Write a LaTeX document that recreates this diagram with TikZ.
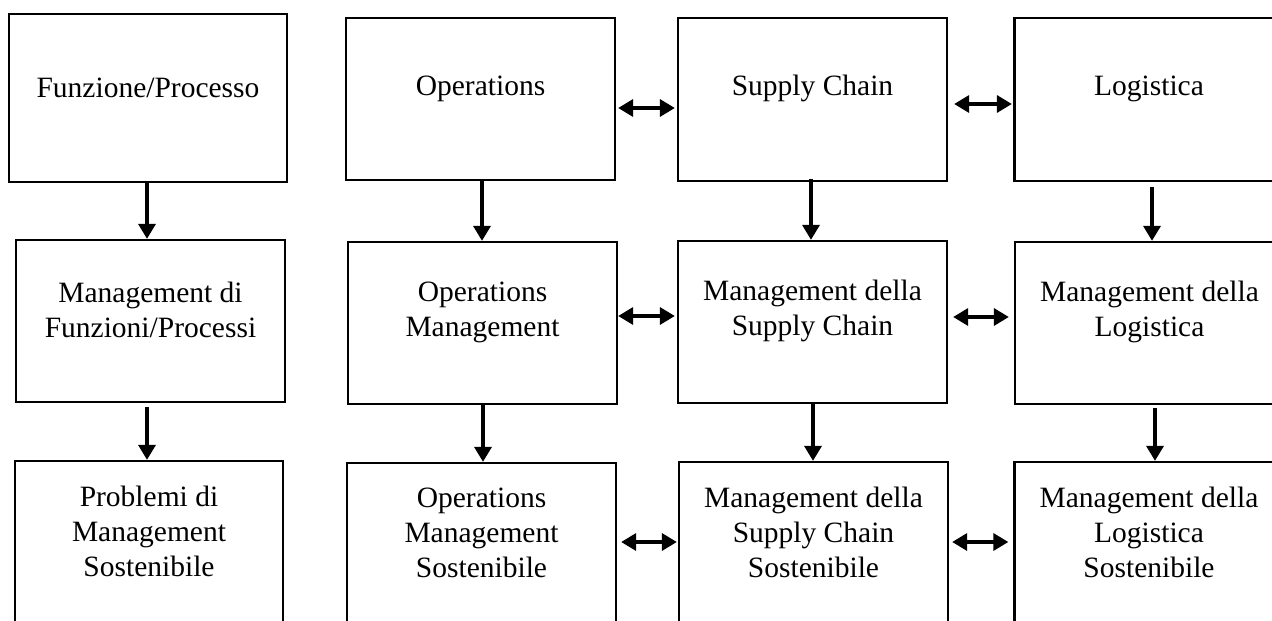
\documentclass[tikz,border=0pt]{standalone}
\usepackage{fontspec}
\setmainfont{Liberation Serif}
\usetikzlibrary{arrows.meta}

\begin{document}
\begin{tikzpicture}[x=1pt,y=-1pt,
  box/.style={draw=black, line width=2.3pt, rectangle, inner sep=0pt,
              minimum width=269pt, minimum height=162pt},
  txt/.style={align=center, inner sep=0pt, text=black,
              font=\fontsize{29.5}{35}\selectfont},
  arr/.style={line width=3.4pt, -{Triangle[length=15pt,width=17pt]}},
  darr/.style={line width=3.4pt,
               {Triangle[length=15pt,width=17pt]}-{Triangle[length=15pt,width=17pt]}}]

\useasboundingbox (0,0) rectangle (1272,621);
\clip (0,0) rectangle (1272,621);
\fill[white] (0,0) rectangle (1272,621);

% ---- first row: function / process
\node[box, minimum width=278pt, minimum height=168pt] (f1) at (148,98) {};
\node[box] (o1) at (480.5,99) {};
\node[box, minimum height=163pt] (s1) at (812.5,99.5) {};
\node[box, minimum height=163pt] (l1) at (1149,99.5) {};

% ---- second row: management
\node[box] (f2) at (150.5,321) {};
\node[box] (o2) at (482.5,323) {};
\node[box] (s2) at (812.5,322) {};
\node[box] (l2) at (1149.5,323) {};

% ---- third row: sustainable management
\node[box, minimum width=268pt] (f3) at (149,542) {};
\node[box] (o3) at (481.5,544) {};
\node[box] (s3) at (813.5,543) {};
\node[box] (l3) at (1149,543) {};

% ---- labels, set slightly above each box centre
\node[txt] (f1t) at ([yshift=10pt]f1.center) {Funzione/Processo};
\node[txt] (o1t) at ([yshift=10pt]o1.center) {Operations};
\node[txt] (s1t) at ([yshift=11pt]s1.center) {Supply Chain};
\node[txt] (l1t) at ([yshift=11pt]l1.center) {Logistica};

\node[txt] (f2t) at ([yshift=11pt]f2.center) {Management di\\Funzioni/Processi};
\node[txt] (o2t) at ([yshift=11pt]o2.center) {Operations\\Management};
\node[txt] (s2t) at ([yshift=11pt]s2.center) {Management della\\Supply Chain};
\node[txt] (l2t) at ([yshift=11pt]l2.center) {Management della\\Logistica};

\node[txt] (f3t) at ([yshift=11pt]f3.center) {Problemi di\\Management\\Sostenibile};
\node[txt] (o3t) at ([yshift=11pt]o3.center) {Operations\\Management\\Sostenibile};
\node[txt] (s3t) at ([yshift=11pt]s3.center) {Management della\\Supply Chain\\Sostenibile};
\node[txt] (l3t) at ([yshift=11pt]l3.center) {Management della\\Logistica\\Sostenibile};

% ---- vertical flows
\draw[arr] ([xshift=-1pt]f1.south) -- ([xshift=-1pt]f1.south |- f2.north);
\draw[arr, shorten <=4pt] ([xshift=-3.5pt]f2.south) -- ([xshift=-3.5pt]f2.south |- f3.north);
\draw[arr] ([xshift=1.5pt]o1.south) -- ([xshift=1.5pt]o1.south |- o2.north);
\draw[arr] ([xshift=0.5pt]o2.south) -- ([xshift=0.5pt]o2.south |- o3.north);
\draw[arr] ([xshift=-1.5pt,yshift=3pt]s1.south) -- ([xshift=-1.5pt]s1.south |- s2.north);
\draw[arr] ([xshift=0.5pt]s2.south) -- ([xshift=0.5pt]s2.south |- s3.north);
\draw[arr, shorten <=5pt] ([xshift=3pt]l1.south) -- ([xshift=3pt]l1.south |- l2.north);
\draw[arr, shorten <=3pt] ([xshift=5.5pt]l2.south) -- ([xshift=5.5pt]l2.south |- l3.north);

% ---- horizontal two-way links
\draw[darr, shorten <=2pt, shorten >=2pt]
  ([yshift=-9pt]o1.east) -- ([yshift=-9pt]o1.east -| s1.west);
\draw[darr, shorten <=6pt, shorten >=1.5pt]
  ([yshift=-4.5pt]s1.east) -- ([yshift=-4.5pt]s1.east -| l1.west);
\draw[darr, shorten >=2pt]
  ([yshift=7pt]o2.east) -- ([yshift=7pt]o2.east -| s2.west);
\draw[darr, shorten <=5pt, shorten >=5pt]
  ([yshift=5pt]s2.east) -- ([yshift=5pt]s2.east -| l2.west);
\draw[darr, shorten <=4pt, shorten >=1pt]
  ([yshift=2pt]o3.east) -- ([yshift=2pt]o3.east -| s3.west);
\draw[darr, shorten <=3pt, shorten >=5pt]
  ([yshift=1pt]s3.east) -- ([yshift=1pt]s3.east -| l3.west);

\end{tikzpicture}
\end{document}
